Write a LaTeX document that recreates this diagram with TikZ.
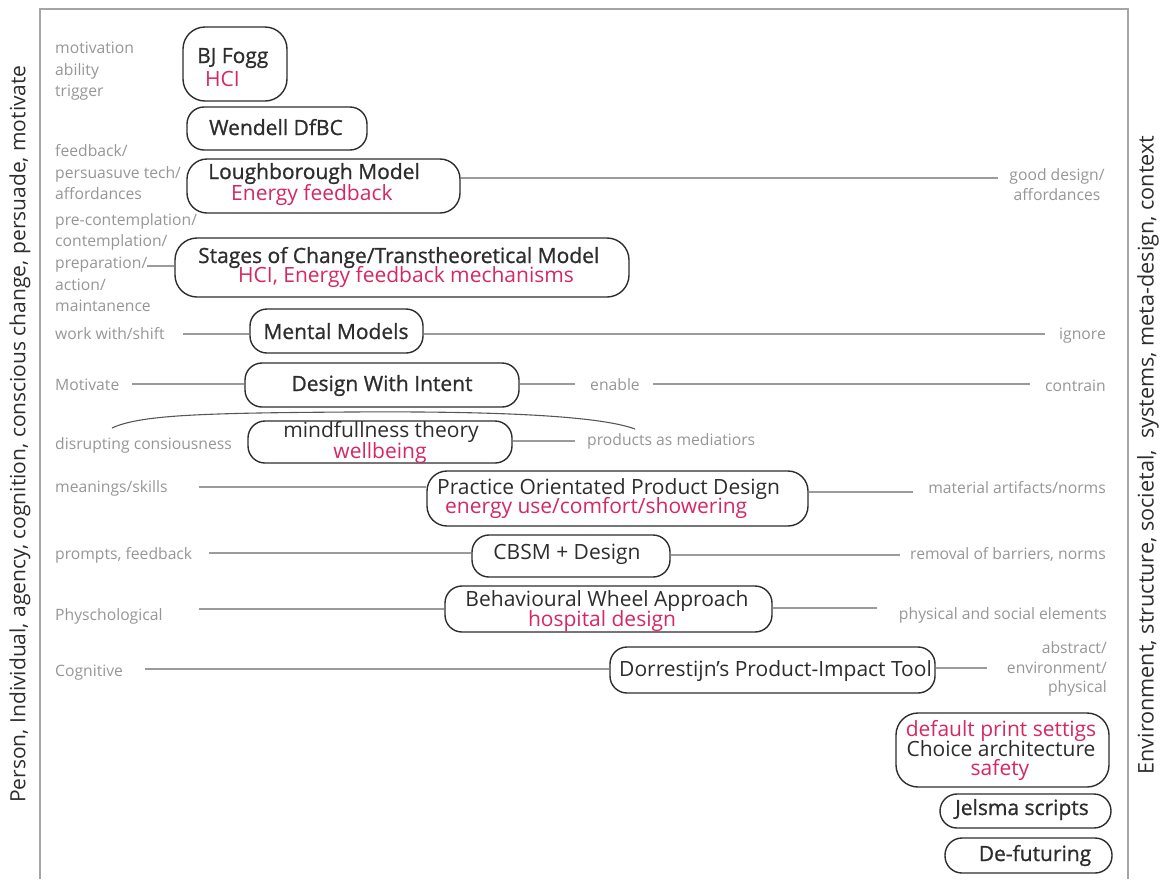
\documentclass[tikz,border=0pt]{standalone}
\usepackage{fontspec}
\setmainfont{Open Sans}
\newfontfamily\semib[FakeBold=0.9]{Open Sans}
\definecolor{framegray}{RGB}{165,165,165}
\definecolor{linegray}{RGB}{155,155,155}
\definecolor{lblgray}{RGB}{150,150,150}
\definecolor{txtdark}{RGB}{45,45,45}
\definecolor{pinkred}{RGB}{214,40,96}
\tikzset{
  frame/.style={draw=framegray, line width=1.5pt},
  bx/.style={draw=txtdark, line width=1.4pt, rounded corners=17pt, inner sep=0pt},
  lbl/.style={text=lblgray, font=\fontsize{15.7}{19}\selectfont, inner sep=0pt},
  ttl/.style={text=txtdark, font=\fontsize{21}{24}\selectfont\semib, inner sep=0pt},
  reg/.style={text=txtdark, font=\fontsize{21}{24}\selectfont, inner sep=0pt},
  redt/.style={text=pinkred, font=\fontsize{21}{24}\selectfont, inner sep=0pt},
  conn/.style={draw=linegray, line width=1.6pt},
  side/.style={rotate=90, text=txtdark, font=\fontsize{21}{24}\selectfont, inner sep=0pt},
}
\begin{document}
\begin{tikzpicture}[x=1pt,y=-1pt]
\useasboundingbox (0,0) rectangle (1162,879);
% frame
\draw[frame] (40,879) -- (40,9) -- (1128,9) -- (1128,879);
% side texts
\node[side] (lside) at (20,434) {Person, Individual, agency, cognition, conscious change, persuade, motivate};
\node[side, font=\fontsize{21.6}{24}\selectfont] (rside) at (1148,455) {Environment, structure, societal,\ \ systems, meta-design, context};

% boxes
\node[bx, minimum width=104pt, minimum height=74pt, rounded corners=22pt] (fogg) at (235,64) {};
\node[bx, minimum width=180pt, minimum height=43pt] (wend) at (277,128.5) {};
\node[bx, minimum width=273pt, minimum height=54pt, rounded corners=20pt] (lough) at (323.5,186) {};
\node[bx, minimum width=454pt, minimum height=59pt, rounded corners=22pt] (stages) at (402,267.5) {};
\node[bx, minimum width=173pt, minimum height=44pt] (mm) at (336.5,331) {};
\node[bx, minimum width=274pt, minimum height=44pt] (dwi) at (382,385) {};
\node[bx, minimum width=264pt, minimum height=42pt] (mind) at (380,442) {};
\node[bx, minimum width=381pt, minimum height=55pt, rounded corners=20pt] (popd) at (617.5,498.5) {};
\node[bx, minimum width=198pt, minimum height=42pt] (cbsm) at (571,556) {};
\node[bx, minimum width=327pt, minimum height=46pt] (bwa) at (608.5,609) {};
\node[bx, minimum width=325pt, minimum height=46pt] (dorr) at (772.5,670) {};
\node[bx, minimum width=213pt, minimum height=74pt, rounded corners=22pt] (choice) at (1002.5,750) {};
\node[bx, minimum width=171pt, minimum height=34pt] (jel) at (1025.5,811) {};
\node[bx, minimum width=167pt, minimum height=35pt] (defu) at (1028.5,855.5) {};

% box texts (placed by baseline)
\node[ttl, anchor=base west] (t-fogg) at (197,63) {BJ Fogg};
\node[redt, anchor=base west] (t-hci) at (205,86) {HCI};
\node[ttl, anchor=base] (t-wend) at (276,135) {Wendell DfBC};
\node[ttl, anchor=base west] (t-lough) at (208,179) {Loughborough Model};
\node[redt, anchor=base west] (t-energy) at (231,200) {Energy feedback};
\node[ttl, anchor=base west] (t-stages) at (198,263) {Stages of Change/Transtheoretical Model};
\node[redt, anchor=base west] (t-stages2) at (238,282) {HCI, Energy feedback mechanisms};
\node[ttl, anchor=base] (t-mm) at (336,339) {Mental Models};
\node[ttl, anchor=base] (t-dwi) at (382,391) {Design With Intent};
\node[reg, anchor=base] (t-mind) at (381,437) {mindfullness theory};
\node[redt, anchor=base] (t-well) at (380,458) {wellbeing};
\node[reg, anchor=base west] (t-popd) at (437,494) {Practice Orientated Product Design};
\node[redt, anchor=base west] (t-popd2) at (445,513) {energy use/comfort/showering};
\node[reg, anchor=base] (t-cbsm) at (567,559) {CBSM + Design};
\node[reg, anchor=base] (t-bwa) at (607,606) {Behavioural Wheel Approach};
\node[redt, anchor=base] (t-bwa2) at (602,626) {hospital design};
\node[reg, anchor=base west] (t-dorr) at (619,676) {Dorrestijn’s Product-Impact Tool};
\node[redt, anchor=base] (t-ch1) at (1001,736) {default print settigs};
\node[reg, anchor=base] (t-ch2) at (1001,756) {Choice architecture};
\node[redt, anchor=base] (t-ch3) at (1000,775) {safety};
\node[ttl, anchor=base] (t-jel) at (1022,815) {Jelsma scripts};
\node[ttl, anchor=base] (t-defu) at (1035,861) {De-futuring};

% left labels
\node[lbl, anchor=base west] (l1) at (55,53) {motivation};
\node[lbl, anchor=base west] (l2) at (55,75) {ability};
\node[lbl, anchor=base west] (l3) at (55,96) {trigger};
\node[lbl, anchor=base west] (l4) at (55,156) {feedback/};
\node[lbl, anchor=base west] (l5) at (55,178) {persuasuve tech/};
\node[lbl, anchor=base west] (l6) at (55,199) {affordances};
\node[lbl, anchor=base west] (l7) at (55,225) {pre-contemplation/};
\node[lbl, anchor=base west] (l8) at (55,246) {contemplation/};
\node[lbl, anchor=base west] (l9) at (55,268) {preparation/};
\node[lbl, anchor=base west] (l10) at (55,290) {action/};
\node[lbl, anchor=base west] (l11) at (55,311) {maintanence};
\node[lbl, anchor=base west] (l12) at (55,339) {work with/shift};
\node[lbl, anchor=base west] (l13) at (55,390) {Motivate};
\node[lbl, anchor=base west] (l14) at (55,449) {disrupting consiousness};
\node[lbl, anchor=base west] (l15) at (55,492) {meanings/skills};
\node[lbl, anchor=base west] (l16) at (55,559) {prompts, feedback};
\node[lbl, anchor=base west] (l17) at (55,620) {Physchological};
\node[lbl, anchor=base west] (l18) at (55,676) {Cognitive};

% right labels
\node[lbl, anchor=base] (gd1) at (1057,180) {good design/};
\node[lbl, anchor=base] (gd2) at (1057,200) {affordances};
\node[lbl, anchor=base east] (r1) at (1106,339) {ignore};
\node[lbl, anchor=base east] (r2) at (1106,391) {contrain};
\node[lbl, anchor=base east] (r3) at (1106,493) {material artifacts/norms};
\node[lbl, anchor=base east] (r4) at (1106,559) {removal of barriers, norms};
\node[lbl, anchor=base east] (r5) at (1107,619) {physical and social elements};
\node[lbl, anchor=base east] (r6) at (1107,653) {abstract/};
\node[lbl, anchor=base east] (r7) at (1107,673) {environment/};
\node[lbl, anchor=base east] (r8) at (1107,692) {physical};
\node[lbl, anchor=base west] (m1) at (590,390) {enable};
\node[lbl, anchor=base west] (m2) at (587,445) {products as mediatiors};

% connector end points
\coordinate (p9) at (147,266);
\coordinate (c-lough) at (998,178);
\coordinate (c-mm-l) at (183,334);
\coordinate (c-mm-r) at (1045,334);
\coordinate (c-dwi-l) at (132,384);
\coordinate (c-dwi-r1) at (575,384);
\coordinate (c-dwi-r2) at (653,384);
\coordinate (c-dwi-r3) at (1030,384);
\coordinate (c-mind-r) at (575,441);
\coordinate (c-popd-l) at (199,487);
\coordinate (c-popd-r) at (913,492);
\coordinate (c-cbsm-l) at (209,553);
\coordinate (c-cbsm-r) at (900,555);
\coordinate (c-bwa-l) at (199,609);
\coordinate (c-bwa-r) at (877,608);
\coordinate (c-dorr-l) at (145,669);
\coordinate (c-dorr-r) at (987,668);
\coordinate (arcA) at (112,428);
\coordinate (arcB) at (635,429);

% connectors
\draw[conn, line width=1.1pt] (p9) -- (stages.west |- p9);
\draw[conn] (lough.east |- c-lough) -- (c-lough);
\draw[conn] (c-mm-l) -- (mm.west |- c-mm-l);
\draw[conn] (mm.east |- c-mm-r) -- (c-mm-r);
\draw[conn] (c-dwi-l) -- (dwi.west |- c-dwi-l);
\draw[conn] (dwi.east |- c-dwi-r1) -- (c-dwi-r1);
\draw[conn] (c-dwi-r2) -- (c-dwi-r3);
\draw[conn] (mind.east |- c-mind-r) -- (c-mind-r);
\draw[conn] (c-popd-l) -- (popd.west |- c-popd-l);
\draw[conn] (popd.east |- c-popd-r) -- (c-popd-r);
\draw[conn] (c-cbsm-l) -- (cbsm.west |- c-cbsm-l);
\draw[conn] (cbsm.east |- c-cbsm-r) -- (c-cbsm-r);
\draw[conn] (c-bwa-l) -- (bwa.west |- c-bwa-l);
\draw[conn] (bwa.east |- c-bwa-r) -- (c-bwa-r);
\draw[conn] (c-dorr-l) -- (dorr.west |- c-dorr-l);
\draw[conn] (dorr.east |- c-dorr-r) -- (c-dorr-r);
% arc over mindfullness theory
\draw[draw=txtdark!80, line width=1.1pt] (arcA) .. controls (140,415) and (200,413) .. (350,412) .. controls (500,411) and (600,416) .. (arcB);
\end{tikzpicture}
\end{document}
